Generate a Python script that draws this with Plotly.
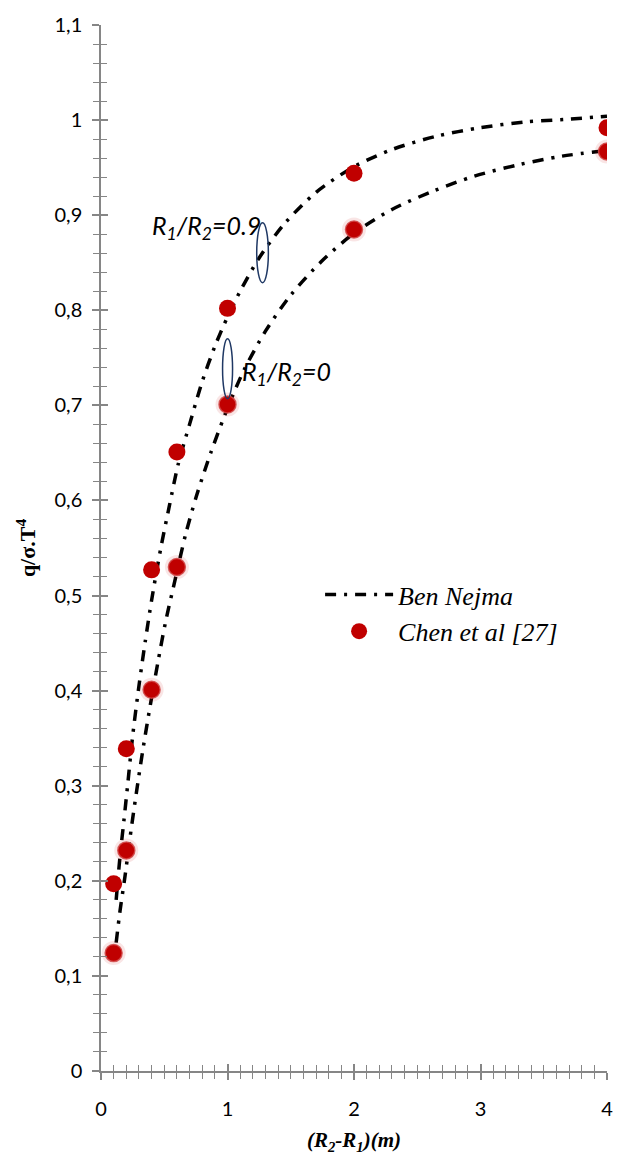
import plotly.graph_objects as go

# Gap between the cylinders (m)
gap = [0.1, 0.2, 0.4, 0.6, 1, 2, 4]

# Chen et al [27] reference values, q / (sigma T^4)
chen_r09 = [0.197, 0.339, 0.527, 0.651, 0.802, 0.944, 0.992]
chen_r0 = [0.124, 0.232, 0.401, 0.530, 0.701, 0.885, 0.967]

# Ben Nejma solution, R1/R2 = 0.9
nejma_r09_x = [0.12, 0.15, 0.18, 0.21, 0.25, 0.30, 0.35, 0.40, 0.47, 0.54, 0.61,
               0.70, 0.80, 0.90, 1.00, 1.10, 1.25, 1.45, 1.70, 2.00, 2.30, 2.65,
               3.00, 3.35, 3.70, 4.00]
nejma_r09_y = [0.180, 0.225, 0.262, 0.300, 0.352, 0.405, 0.452, 0.495, 0.548, 0.594, 0.638,
               0.680, 0.725, 0.762, 0.793, 0.820, 0.855, 0.891, 0.924, 0.951, 0.969, 0.983,
               0.992, 0.998, 1.001, 1.004]

# Ben Nejma solution, R1/R2 = 0
nejma_r0_x = [0.12, 0.15, 0.19, 0.23, 0.28, 0.33, 0.39, 0.45, 0.51, 0.59, 0.67,
              0.76, 0.87, 1.00, 1.13, 1.30, 1.50, 1.74, 2.00, 2.30, 2.62, 2.95,
              3.30, 3.64, 4.00]
nejma_r0_y = [0.135, 0.168, 0.205, 0.246, 0.293, 0.337, 0.385, 0.430, 0.472, 0.519, 0.565,
              0.607, 0.651, 0.697, 0.737, 0.778, 0.816, 0.851, 0.881, 0.906, 0.925, 0.941,
              0.953, 0.962, 0.968]

AXIS_GREY = "#868686"
RED = "#C00000"
DASH = "11px,8px,3px,8px"

fig = go.Figure()

fig.add_trace(go.Scatter(
    x=nejma_r09_x, y=nejma_r09_y, mode="lines",
    line=dict(color="black", width=3.5, dash=DASH, shape="spline", smoothing=0.8),
    name="<i>Ben Nejma</i>", legendgroup="bn", hoverinfo="skip"))
fig.add_trace(go.Scatter(
    x=nejma_r0_x, y=nejma_r0_y, mode="lines",
    line=dict(color="black", width=3.5, dash=DASH, shape="spline", smoothing=0.8),
    name="<i>Ben Nejma</i>", legendgroup="bn", showlegend=False, hoverinfo="skip"))

# soft halo under the R1/R2 = 0 reference points (drawn on the overlay axes,
# which also carry the inner half of the crossing tick marks)
fig.add_trace(go.Scatter(
    x=gap, y=chen_r0, mode="markers", xaxis="x2", yaxis="y2",
    marker=dict(size=24, color="rgba(192,0,0,0.10)"),
    showlegend=False, hoverinfo="skip"))

fig.add_trace(go.Scatter(
    x=gap, y=chen_r09, mode="markers",
    marker=dict(size=17, color=RED),
    name="<i>Chen et al [27]</i>", legendgroup="chen"))
fig.add_trace(go.Scatter(
    x=gap, y=chen_r0, mode="markers",
    marker=dict(size=17, color=RED, line=dict(width=1.5, color="rgba(210,80,80,0.85)")),
    name="<i>Chen et al [27]</i>", legendgroup="chen", showlegend=False))

tickfont = dict(family="Lato", size=20, color="black")

common_x = dict(range=[0, 4], tick0=0, dtick=1, showgrid=False, zeroline=False,
                ticklen=7, tickwidth=1.5, tickcolor=AXIS_GREY)
common_y = dict(range=[0, 1.1], tick0=0, dtick=0.1, showgrid=False, zeroline=False,
                ticklen=7, tickwidth=1.5, tickcolor=AXIS_GREY)

fig.update_layout(
    width=626, height=1160,
    margin=dict(l=101, r=19, t=19, b=89),
    paper_bgcolor="white", plot_bgcolor="white",
    separators=", ",
    showlegend=True,
    legend=dict(x=0.433, y=0.478, xanchor="left", yanchor="top", itemwidth=68,
                font=dict(family="Liberation Serif", size=26, color="black"),
                bgcolor="rgba(0,0,0,0)", tracegroupgap=0),
    xaxis=dict(**common_x, showline=True, linecolor=AXIS_GREY, linewidth=1.5,
               ticks="outside",
               minor=dict(dtick=0.1, tick0=0, ticks="outside", ticklen=6, tickwidth=1,
                          tickcolor=AXIS_GREY),
               tickfont=tickfont, ticklabelstandoff=12,
               title=dict(text="<b><i>(R<sub>2</sub>-R<sub>1</sub>)(m)</i></b>",
                          font=dict(family="Liberation Serif", size=21, color="black"),
                          standoff=14)),
    xaxis2=dict(**common_x, overlaying="x", anchor="y", side="bottom",
                ticks="inside", showticklabels=False, showline=False,
                minor=dict(dtick=0.1, tick0=0, ticks="inside", ticklen=6, tickwidth=1,
                           tickcolor=AXIS_GREY)),
    yaxis=dict(**common_y, showline=True, linecolor=AXIS_GREY, linewidth=1.5,
               ticks="outside",
               minor=dict(dtick=0.02, tick0=0, ticks="outside", ticklen=6, tickwidth=1,
                          tickcolor=AXIS_GREY),
               tickfont=tickfont, ticklabelstandoff=6,
               title=dict(text="<b>q/σ.T<sup>4</sup></b>",
                          font=dict(family="Liberation Serif", size=22, color="black"),
                          standoff=13)),
    yaxis2=dict(**common_y, overlaying="y", anchor="x", side="left",
                ticks="inside", showticklabels=False, showline=False,
                minor=dict(dtick=0.02, tick0=0, ticks="inside", ticklen=6, tickwidth=1,
                           tickcolor=AXIS_GREY)),
)

# curve labels
label_font = dict(family="Lato", size=25, color="black")
fig.add_annotation(x=0.387, y=0.888, xanchor="left", yanchor="middle", showarrow=False,
                   text="<i>R<sub>1</sub>/R<sub>2</sub>=0.9</i>", font=label_font)
fig.add_annotation(x=1.099, y=0.734, xanchor="left", yanchor="middle", showarrow=False,
                   text="<i>R<sub>1</sub>/R<sub>2</sub>=0</i>", font=label_font)

# ellipses marking each curve
NAVY = "#1F3864"
fig.add_shape(type="circle", xref="x", yref="y", x0=1.231, x1=1.323, y0=0.829, y1=0.892,
              line=dict(color=NAVY, width=1.5))
fig.add_shape(type="circle", xref="x", yref="y", x0=0.961, x1=1.040, y0=0.707, y1=0.770,
              line=dict(color=NAVY, width=1.5))

fig.write_html("out.html")
